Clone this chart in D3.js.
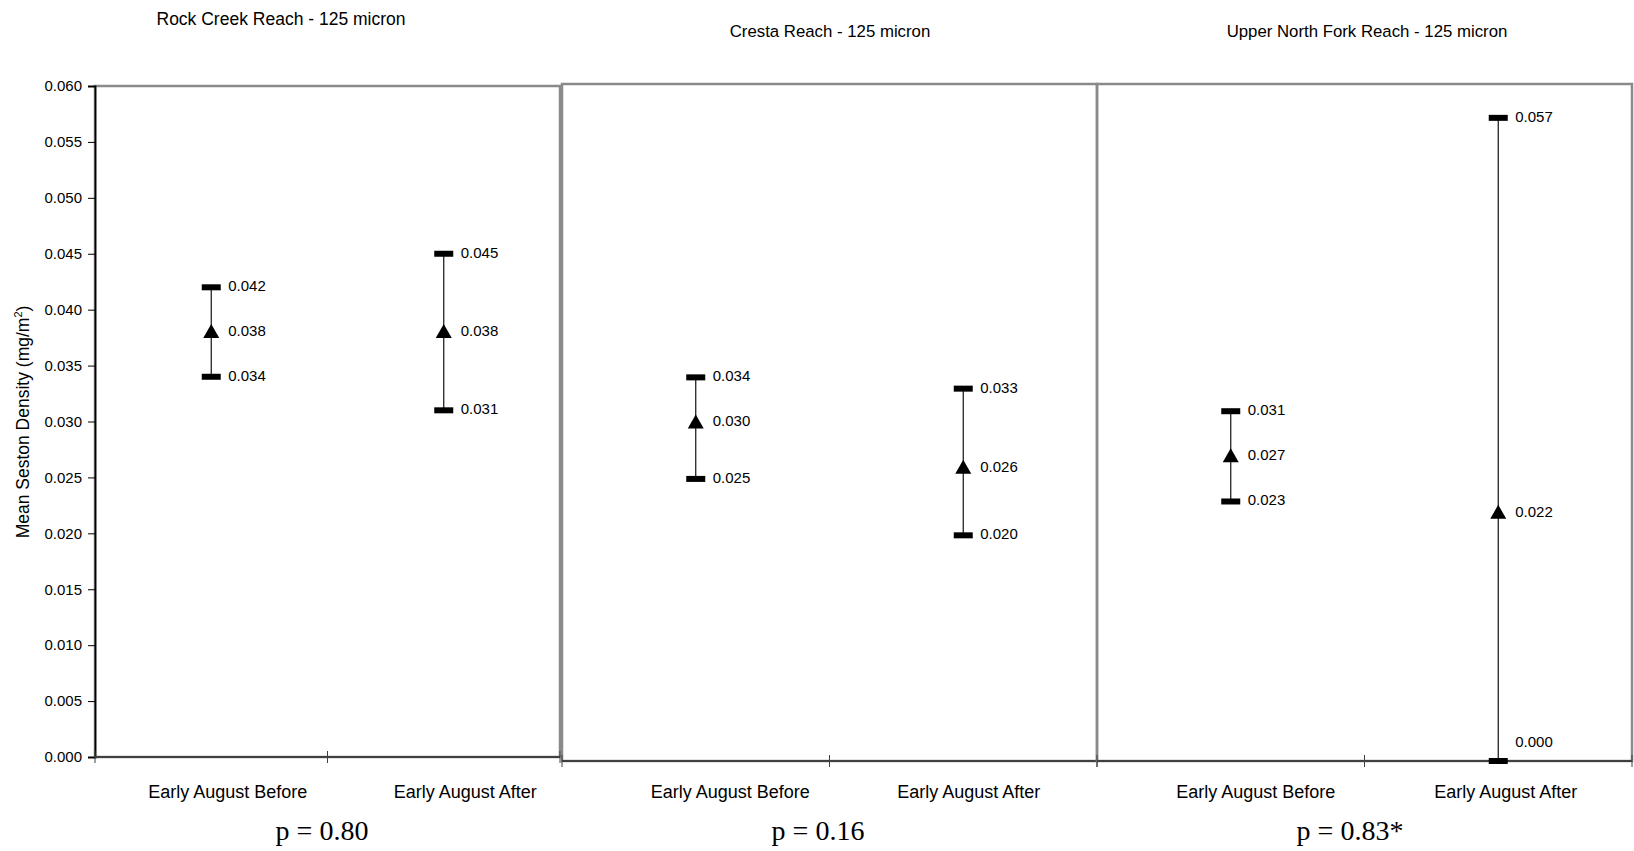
<!DOCTYPE html>
<html>
<head>
<meta charset="utf-8">
<script src="https://cdn.jsdelivr.net/npm/d3@7"></script>
<style>
  html, body { margin: 0; padding: 0; background: #fff; }
  svg { display: block; }
  text { font-family: "Liberation Sans", Arial, sans-serif; fill: #000; }
</style>
</head>
<body>
<svg id="chart" width="1634" height="851"></svg>
<script>
// ---- data ----
const panelTitles = ["Rock Creek Reach - 125 micron", "Cresta Reach - 125 micron", "Upper North Fork Reach - 125 micron"];
const categories = ["Early August Before", "Early August After"];
const lowValues  = [[0.034, 0.031], [0.025, 0.020], [0.023, 0.000]];
const meanValues = [[0.038, 0.038], [0.030, 0.026], [0.027, 0.022]];
const highValues = [[0.042, 0.045], [0.034, 0.033], [0.031, 0.057]];
const pLabels = ["p = 0.80", "p = 0.16", "p = 0.83*"];
const yTicks = [0.000, 0.005, 0.010, 0.015, 0.020, 0.025, 0.030, 0.035, 0.040, 0.045, 0.050, 0.055, 0.060];
const yTitle = "Mean Seston Density (mg/m";

// ---- layout ----
const panels = [
  { x0: 95,   x1: 560,  top: 86, bottom: 757, titleX: 281,  titleY: 25, titleSize: 17.5, pX: 322,  labelShift: [16.5, 21.5] },
  { x0: 562,  x1: 1097, top: 84, bottom: 761, titleX: 830,  titleY: 37, titleSize: 16.8, pX: 818,  labelShift: [34.5, 5.5] },
  { x0: 1097, x1: 1632, top: 84, bottom: 761, titleX: 1367, titleY: 37, titleSize: 16.8, pX: 1350, labelShift: [25, 7.5] }
];
const fmt = d3.format(".3f");
const svg = d3.select("#chart");

panels.forEach((p, i) => {
  const x = d3.scaleBand().domain(categories).range([p.x0, p.x1]).padding(0);
  const y = d3.scaleLinear().domain([0, 0.06]).range([p.bottom, p.top]);
  const g = svg.append("g");

  // box (gray frame)
  g.append("rect")
    .attr("x", p.x0).attr("y", y(0.06))
    .attr("width", p.x1 - p.x0).attr("height", y(0) - y(0.06))
    .attr("fill", "none").attr("stroke", "#8a8a8a").attr("stroke-width", 2.5);

  // title
  g.append("text").attr("x", p.titleX).attr("y", p.titleY)
    .attr("text-anchor", "middle").style("font-size", p.titleSize + "px")
    .text(panelTitles[i]);

  // y axis only on first panel
  if (i === 0) {
    const ax = g.append("g").attr("transform", `translate(${p.x0},0)`)
      .call(d3.axisLeft(y).tickValues(yTicks).tickFormat(fmt).tickSize(7).tickPadding(6));
    ax.select(".domain").attr("stroke", "#000").attr("stroke-width", 1.8);
    ax.selectAll(".tick line").attr("stroke", "#000").attr("stroke-width", 1);
    ax.selectAll(".tick text").style("font-size", "15px").style("font-family", "Liberation Sans, Arial, sans-serif");
  }

  // bottom axis
  g.append("line").attr("x1", p.x0).attr("x2", p.x1).attr("y1", y(0)).attr("y2", y(0))
    .attr("stroke", "#404040").attr("stroke-width", 2.2);
  const bounds = categories.map(c => x(c)).concat([p.x1]);
  g.selectAll(".xt").data(bounds).enter().append("line")
    .attr("x1", d => d).attr("x2", d => d)
    .attr("y1", y(0) - 6).attr("y2", y(0) + 6)
    .attr("stroke", "#404040").attr("stroke-width", 1);

  // category labels
  g.selectAll(".cat").data(categories).enter().append("text")
    .attr("x", (d, j) => x(d) + x.bandwidth() / 2 + p.labelShift[j])
    .attr("y", 798)
    .attr("text-anchor", "middle").style("font-size", "18px")
    .text(d => d);

  // p value
  g.append("text").attr("x", p.pX).attr("y", 840)
    .attr("text-anchor", "middle")
    .style("font-family", "Liberation Serif, 'Times New Roman', serif")
    .style("font-size", "28px")
    .text(pLabels[i]);

  // error bars
  categories.forEach((c, j) => {
    const cx = x(c) + x.bandwidth() / 2;
    const lo = lowValues[i][j], mu = meanValues[i][j], hi = highValues[i][j];
    g.append("line").attr("x1", cx).attr("x2", cx).attr("y1", y(lo)).attr("y2", y(hi))
      .attr("stroke", "#111").attr("stroke-width", 1.2);
    [lo, hi].forEach(v => {
      g.append("rect").attr("x", cx - 9.5).attr("y", y(v) - 3)
        .attr("width", 19).attr("height", 6).attr("fill", "#000");
    });
    const ty = y(mu);
    g.append("path")
      .attr("d", `M${cx},${ty - 8} L${cx + 8},${ty + 6} L${cx - 8},${ty + 6} Z`)
      .attr("fill", "#000");
    [lo, mu, hi].forEach(v => {
      const dy = v === 0 ? -18 : 0;
      g.append("text").attr("x", cx + 17).attr("y", y(v) + dy)
        .attr("dominant-baseline", "middle").style("font-size", "15px")
        .text(fmt(v));
    });
  });
});

// y-axis title
svg.append("text")
  .attr("transform", "translate(29,422) rotate(-90)")
  .attr("text-anchor", "middle").style("font-size", "17.5px")
  .call(t => {
    t.append("tspan").text(yTitle);
    t.append("tspan").attr("dy", -7).style("font-size", "11px").text("2");
    t.append("tspan").attr("dy", 7).text(")");
  });
</script>
</body>
</html>
